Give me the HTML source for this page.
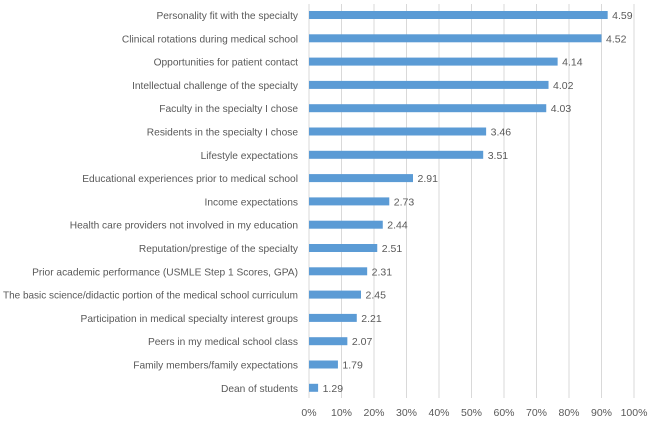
<!DOCTYPE html>
<html><head><meta charset="utf-8"><style>
html,body{margin:0;padding:0;background:#fff;}
svg text{font-family:"Liberation Sans",sans-serif;fill:#595959;}
</style></head><body>
<svg id="chart" width="648" height="421"></svg>
<script>
const categories=["Personality fit with the specialty","Clinical rotations during medical school","Opportunities for patient contact","Intellectual challenge of the specialty","Faculty in the specialty I chose","Residents in the specialty I chose","Lifestyle expectations","Educational experiences prior to medical school","Income expectations","Health care providers not involved in my education","Reputation/prestige of the specialty","Prior academic performance (USMLE Step 1 Scores, GPA)","The basic science/didactic portion of the medical school curriculum","Participation in medical specialty interest groups","Peers in my medical school class","Family members/family expectations","Dean of students"];
const percentValues=[91.9,90.0,76.5,73.7,73.0,54.5,53.6,32.0,24.7,22.7,21.0,17.9,16.0,14.7,11.8,8.9,2.8];
const meanLabels=["4.59","4.52","4.14","4.02","4.03","3.46","3.51","2.91","2.73","2.44","2.51","2.31","2.45","2.21","2.07","1.79","1.29"];
const tickValues=[0,10,20,30,40,50,60,70,80,90,100];
const tickLabels=["0%","10%","20%","30%","40%","50%","60%","70%","80%","90%","100%"];

const svg=document.getElementById('chart');
const NS='http://www.w3.org/2000/svg';
const x0=309,x1=634,yTop=15,yStep=23.3,barH=8;
const xScale=v=>x0+(v/100)*(x1-x0);
const yScale=i=>yTop+i*yStep;
function mk(tag,attrs){const e=document.createElementNS(NS,tag);for(const k in attrs)e.setAttribute(k,attrs[k]);svg.appendChild(e);return e;}

tickValues.forEach((t,i)=>{
  const g=mk('line',{x1:xScale(t),x2:xScale(t),y1:4,y2:398,stroke:'#d9d9d9','stroke-width':1});
  
  
  const tx=mk('text',{x:xScale(t),y:416,'font-size':10.5,'text-anchor':'middle'});
  tx.textContent=tickLabels[i];
  
  
});

categories.forEach((c,i)=>{
  const y=yScale(i);
  const lab=mk('text',{x:298,y:y+4,'font-size':10.2,'text-anchor':'end'});
  lab.textContent=c;
  
  
  try{ if(lab.getComputedTextLength()>295){lab.setAttribute('textLength',295);lab.setAttribute('lengthAdjust','spacingAndGlyphs');} }catch(e){}
  const b=mk('rect',{x:x0,y:y-barH/2,width:xScale(percentValues[i])-x0,height:barH,fill:'#5b9bd5'});
  
  
  const v=mk('text',{x:xScale(percentValues[i])+4.5,y:y+4,'font-size':10.5});
  v.textContent=meanLabels[i];
  
  
});
</script>
</body></html>
